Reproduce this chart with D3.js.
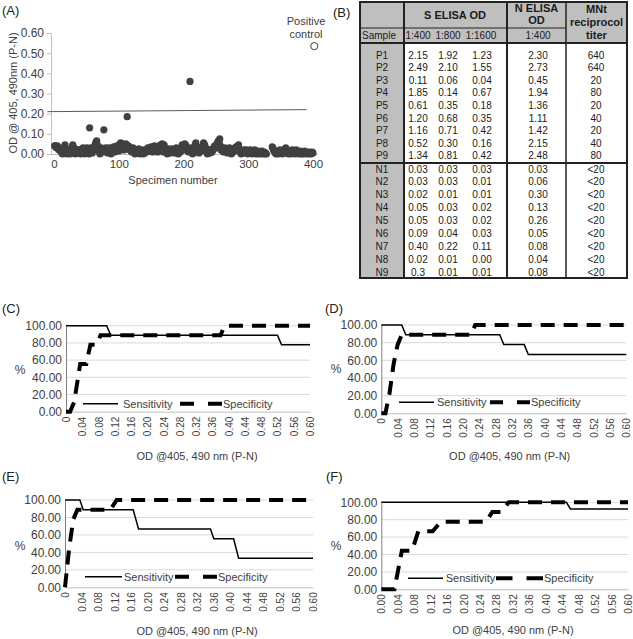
<!DOCTYPE html>
<html><head><meta charset="utf-8">
<script src="https://cdn.jsdelivr.net/npm/d3@7"></script>
<style>body{margin:0;background:#fff}svg{font-family:"Liberation Sans",Arial,sans-serif}</style>
</head><body>
<script>
// ---------- DATA ----------
// Panel A: OD (P-N) by specimen number 1..400 (null = no specimen)
const specimenOD = [
.04,.04,.035,.03,.04,.03,.025,.02,.03,.015,.02,.01,0,.015,.02,.03,.045,.025,.01,0,
.02,.005,.01,.015,0,.01,.02,.035,.045,.02,.03,.01,0,.005,.015,.02,.01,.005,.02,.01,
0,.015,.025,.02,.03,.01,0,.02,.025,.015,.03,.02,.01,0,.13,.02,.03,.015,.005,.025,
.03,.02,.04,.05,.06,.065,.045,.03,.02,.01,0,.02,.03,.025,.015,.02,.12,.01,.025,.03,
.02,.01,.005,.02,.03,.025,.015,0,.01,.02,.03,.035,.02,.01,.025,.03,.04,.035,.02,.015,
.04,.05,.055,.03,.05,.045,.035,.02,.03,.045,.05,.04,.185,.03,.04,.025,.02,.03,.015,.01,
.02,.03,.025,.01,0,.02,.015,.01,.005,.02,.025,.01,0,.005,.015,.01,.02,0,.01,.005,
.015,.02,.01,.025,.03,.02,.015,.03,.025,.035,.02,.01,.03,.02,.04,.03,.025,.035,.02,.01,
.03,.04,.035,.02,.045,.03,.05,.02,.01,.045,.03,.02,.015,.01,0,.02,.025,.01,.005,.015,
.02,.01,.025,.02,.015,.005,.01,.02,.03,.015,.01,0,.02,.025,.01,.03,.02,.045,.04,.03,
.02,.05,.045,.03,.025,.02,.015,.01,.02,.36,.03,.02,.01,0,.015,.025,.03,.045,.055,.04,
.03,.02,.01,.005,.02,.025,.03,.015,.02,.04,.055,.05,.04,.03,.02,.01,0,.015,.02,.01,
.005,.02,.015,.01,.025,.02,.03,.04,.035,.03,.04,.05,.06,.065,.06,.075,.04,.02,.03,.02,
.015,.01,.02,.03,.025,.02,.01,.005,.015,.02,.03,.02,.01,0,.015,.02,.01,.025,.02,.03,
.035,.03,.02,.02,.045,.015,.02,.01,0,.005,.015,.01,.02,.015,.005,.01,.02,.015,0,.01,
.005,.01,.02,.015,.01,0,.005,.01,.015,.02,.01,.005,0,.01,.015,.005,.01,0,.005,.01,
.015,.01,0,.005,.01,0,.005,0,null,null,null,null,null,null,null,null,.035,.03,.02,.015,
.01,.005,0,.01,.015,.005,0,.01,.02,.015,.01,.005,0,.005,.01,.02,.025,.03,.02,.01,
.005,0,.01,.015,.005,0,.01,.02,.015,.01,.005,0,.01,.02,.015,.01,.005,0,.01,.015,
.005,0,.01,.005,0,.01,.015,.01,.005,0,.005,.01,.005,0,.01,.005,0,.005,.01,.005
];
const controlSpecimen = [402];
const controlOD = [0.535];
const cutoffSpecimen = [-10, 390];
const cutoffOD = [0.21, 0.22];
const aTicksX = [0, 100, 200, 300, 400];
const aTicksY = [0, 0.1, 0.2, 0.3, 0.4, 0.5, 0.6];

// Panel B table
const sampleIds = ['P1','P2','P3','P4','P5','P6','P7','P8','P9','N1','N2','N3','N4','N5','N6','N7','N8','N9'];
const sOD400  = ['2.15','2.49','0.11','1.85','0.61','1.20','1.16','0.52','1.34','0.03','0.03','0.02','0.05','0.05','0.09','0.40','0.02','0.3'];
const sOD800  = ['1.92','2.10','0.06','0.14','0.35','0.68','0.71','0.30','0.81','0.03','0.03','0.01','0.03','0.03','0.04','0.22','0.01','0.01'];
const sOD1600 = ['1.23','1.55','0.04','0.67','0.18','0.35','0.42','0.16','0.42','0.03','0.01','0.01','0.02','0.02','0.03','0.11','0.00','0.01'];
const nOD400  = ['2.30','2.73','0.45','1.94','1.36','1.11','1.42','2.15','2.48','0.03','0.06','0.30','0.13','0.26','0.05','0.08','0.04','0.08'];
const mntTiter = ['640','640','20','80','20','40','20','40','80','<20','<20','<20','<20','<20','<20','<20','<20','<20'];

// Panels C-F: cutoff (OD) vs percent
const rocTicksX = [0,0.04,0.08,0.12,0.16,0.20,0.24,0.28,0.32,0.36,0.40,0.44,0.48,0.52,0.56,0.60];
const rocTicksY = [0,20,40,60,80,100];

const cSensCut = [0,0.10,0.11,0.52,0.53,0.60];
const cSensPct = [100,100,88.89,88.89,77.78,77.78];
const cSpecCut = [0,0.01,0.02,0.035,0.05,0.06,0.075,0.085,0.38,0.39,0.60];
const cSpecPct = [0,0,11.11,55.56,55.56,77.78,77.78,88.89,88.89,100,100];

const dSensCut = [0,0.05,0.06,0.29,0.30,0.35,0.36,0.60];
const dSensPct = [100,100,88.89,88.89,77.78,77.78,66.67,66.67];
const dSpecCut = [0,0.01,0.02,0.03,0.04,0.05,0.22,0.23,0.60];
const dSpecPct = [0,0,22.22,55.56,77.78,88.89,88.89,100,100];

const eSensCut = [0,0.036,0.044,0.165,0.178,0.352,0.36,0.408,0.42,0.60];
const eSensPct = [100,100,88.89,88.89,66.67,66.67,55.56,55.56,33.33,33.33];
const eSpecCut = [0,0.01,0.02,0.03,0.11,0.125,0.60];
const eSpecPct = [0,44.44,77.78,88.89,88.89,100,100];

const fSensCut = [0,0.45,0.46,0.60];
const fSensPct = [100,100,92.31,92.31];
const fSpecCut = [0,0.032,0.05,0.075,0.09,0.125,0.145,0.255,0.27,0.29,0.31,0.60];
const fSpecPct = [0,0,44.44,44.44,66.67,66.67,77.78,77.78,88.89,88.89,100,100];

const legendNames = ['Sensitivity','Specificity'];

// ---------- DRAW ----------
const svg = d3.select('body').append('svg').attr('width',633).attr('height',639);
svg.append('rect').attr('width',633).attr('height',639).attr('fill','#fff');
const TXT = '#404040';
const FF = '"Liberation Sans",Arial,sans-serif';

function label(t, x, y){
  svg.append('text').attr('x',x).attr('y',y).attr('dy','0.35em').attr('font-size',13).attr('fill','#222').text(t);
}

// ===== Panel A =====
(function(){
  const g = svg.append('g');
  const x = d3.scaleLinear().domain([0,400]).range([54,313]);
  const y = d3.scaleLinear().domain([0,0.6]).range([154,33]);
  const ya = g.append('g').attr('transform','translate(51,0)')
    .call(d3.axisLeft(y).tickValues(aTicksY).tickFormat(d3.format('.2f')).tickSize(4).tickSizeOuter(0).tickPadding(3));
  ya.select('.domain').attr('stroke','#bfbfbf');
  ya.selectAll('line').attr('stroke','#bfbfbf');
  ya.selectAll('text').attr('font-size',12).attr('fill',TXT).attr('font-family',FF);
  const xa = g.append('g').attr('transform','translate(0,154)')
    .call(d3.axisBottom(x).tickValues(aTicksX).tickSize(0).tickPadding(6));
  xa.select('.domain').attr('stroke','#bfbfbf').attr('d','M51,0.5H318');
  xa.selectAll('text').attr('font-size',11.5).attr('fill',TXT).attr('font-family',FF);

  const pts = specimenOD.map((v,i)=>({n:i+1,v})).filter(d=>d.v!==null);
  g.append('g').selectAll('circle').data(pts).join('circle')
    .attr('cx',d=>x(d.n)).attr('cy',d=>y(d.v)).attr('r',3.6).attr('fill','#404040');
  g.append('path').datum(d3.zip(cutoffSpecimen,cutoffOD))
    .attr('d',d3.line().x(d=>x(d[0])).y(d=>y(d[1]))).attr('stroke','#595959').attr('stroke-width',1).attr('fill','none');
  g.selectAll('.pc').data(d3.zip(controlSpecimen,controlOD)).join('circle')
    .attr('cx',d=>x(d[0])).attr('cy',d=>y(d[1])).attr('r',3.6).attr('fill','#fff').attr('stroke','#404040').attr('stroke-width',1);
  g.append('text').attr('x',306).attr('y',21.5).attr('dy','0.35em').attr('text-anchor','middle').attr('font-size',11).attr('fill',TXT).text('Positive');
  g.append('text').attr('x',306).attr('y',34.5).attr('dy','0.35em').attr('text-anchor','middle').attr('font-size',11).attr('fill',TXT).text('control');
  g.append('text').attr('transform','translate(13,93) rotate(-90)').attr('dy','0.35em').attr('text-anchor','middle').attr('font-size',11).attr('fill',TXT).text('OD @ 405, 490nm (P-N)');
  g.append('text').attr('x',173).attr('y',180).attr('dy','0.35em').attr('text-anchor','middle').attr('font-size',11).attr('fill',TXT).text('Specimen number');
  label('(A)',2,10);
})();

// ===== Panel B table =====
(function(){
  const g = svg.append('g');
  const L=360, R=627, T=2, B=278;
  const gray = '#bfbfbf';
  g.append('rect').attr('x',L).attr('y',T).attr('width',R-L).attr('height',43-T).attr('fill',gray);
  g.append('rect').attr('x',L).attr('y',43).attr('width',404-L).attr('height',B-43).attr('fill',gray);
  const col = d3.scaleOrdinal().domain(['id','s400','s800','s1600','n400','mnt']).range([382,418,448,482,538,596]);
  const row = d3.scaleLinear().domain([0,8,9,17]).range([55,155.8,169,272]);
  const cols = [['id',sampleIds],['s400',sOD400],['s800',sOD800],['s1600',sOD1600],['n400',nOD400],['mnt',mntTiter]];
  cols.forEach(([k,arr])=>{
    g.append('g').selectAll('text').data(arr).join('text')
      .attr('x',col(k)).attr('y',(d,i)=>row(i)).attr('dy','0.35em').attr('text-anchor','middle')
      .attr('font-size',10).attr('fill','#1a1a1a').text(d=>d);
  });
  const hdr = (t,x,y,bold)=>g.append('text').attr('x',x).attr('y',y).attr('dy','0.35em').attr('text-anchor','middle')
      .attr('font-size',bold?11:10).attr('font-weight',bold?'bold':'normal').attr('fill','#1a1a1a').text(t);
  hdr('S ELISA OD',455,15,true);
  hdr('N ELISA',536.5,8.5,true); hdr('OD',536.5,20.5,true);
  hdr('MNt',596.5,9.5,true); hdr('reciprocol',596.5,22.5,true); hdr('titer',596.5,35.5,true);
  hdr('Sample',379,35,false);
  hdr('1:400',418,35,false); hdr('1:800',448,35,false); hdr('1:1600',481,35,false); hdr('1:400',538,35,false);
  const ln=(x1,y1,x2,y2,w)=>g.append('line').attr('x1',x1).attr('y1',y1).attr('x2',x2).attr('y2',y2).attr('stroke','#222').attr('stroke-width',w);
  ln(L,28,566,28,1);
  ln(L,43,R,43,2);
  ln(L,163,R,163,2);
  ln(404,T,404,B,2);
  ln(507,T,507,B,2);
  ln(566,T,566,B,1.5);
  g.append('rect').attr('x',L).attr('y',T).attr('width',R-L).attr('height',B-T).attr('fill','none').attr('stroke','#222').attr('stroke-width',2);
  label('(B)',333,12);
})();

// ===== Panels C-F =====
const panels = [
  {lab:'(C)',lx:2,ly:308,left:66,right:310,top:325.7,bottom:411.7,pctX:20,pctY:370,tx:197,ty:455.7,legY:403.7,leg:[83,118,123,180,222,223],zero:'0',
   sens:[cSensCut,cSensPct],spec:[cSpecCut,cSpecPct]},
  {lab:'(D)',lx:325,ly:308,left:381.3,right:626.3,top:325,bottom:413.3,pctX:336,pctY:369,tx:509.7,ty:455.7,legY:402.3,leg:[399,434,437,490,530,531],zero:'0',
   sens:[dSensCut,dSensPct],spec:[dSpecCut,dSpecPct]},
  {lab:'(E)',lx:2,ly:476,left:65,right:313,top:500,bottom:587.3,pctX:20,pctY:546,tx:197,ty:631.5,legY:576.7,leg:[85,122,124,175,217,218],zero:'0',
   sens:[eSensCut,eSensPct],spec:[eSpecCut,eSpecPct]},
  {lab:'(F)',lx:326,ly:476,left:381.3,right:628,top:502.3,bottom:589.3,pctX:336,pctY:546,tx:513,ty:630,legY:578.3,leg:[408,443,445.7,496,543,544],zero:'0.00',
   sens:[fSensCut,fSensPct],spec:[fSpecCut,fSpecPct]}
];
const DASH = '14,9';
panels.forEach(p=>{
  const g = svg.append('g');
  const x = d3.scaleLinear().domain([0,0.6]).range([p.left,p.right]);
  const y = d3.scaleLinear().domain([0,100]).range([p.bottom,p.top]);
  g.append('g').selectAll('line').data(rocTicksY.slice(1)).join('line')
    .attr('x1',p.left).attr('x2',p.right).attr('y1',d=>y(d)).attr('y2',d=>y(d)).attr('stroke','#d9d9d9').attr('stroke-width',1);
  const ya = g.append('g').attr('transform',`translate(${p.left},0)`)
    .call(d3.axisLeft(y).tickValues(rocTicksY).tickFormat(d3.format('.2f')).tickSize(0).tickPadding(4));
  ya.select('.domain').attr('stroke','#808080');
  ya.selectAll('text').attr('font-size',12).attr('fill',TXT).attr('font-family',FF);
  const xa = g.append('g').attr('transform',`translate(0,${p.bottom})`)
    .call(d3.axisBottom(x).tickValues(rocTicksX).tickFormat(d=>d===0?p.zero:d3.format('.2f')(d)).tickSize(0).tickSizeOuter(0));
  xa.select('.domain').attr('stroke','#bfbfbf');
  xa.selectAll('text').attr('font-size',10).attr('fill',TXT).attr('font-family',FF)
    .attr('x',-5).attr('y',0).attr('dy','0.35em').attr('transform','rotate(-90)').style('text-anchor','end');
  const line = d3.line().x(d=>x(d[0])).y(d=>y(d[1]));
  g.append('path').datum(d3.zip(p.sens[0],p.sens[1])).attr('d',line)
    .attr('fill','none').attr('stroke','#000').attr('stroke-width',1.5);
  g.append('path').datum(d3.zip(p.spec[0],p.spec[1])).attr('d',line)
    .attr('fill','none').attr('stroke','#000').attr('stroke-width',4).attr('stroke-dasharray',DASH);
  const lg = p.leg;
  g.append('line').attr('x1',lg[0]).attr('x2',lg[1]).attr('y1',p.legY).attr('y2',p.legY).attr('stroke','#000').attr('stroke-width',1.5);
  g.append('text').attr('x',lg[2]).attr('y',p.legY).attr('dy','0.35em').attr('font-size',11).attr('fill',TXT).text(legendNames[0]);
  g.append('line').attr('x1',lg[3]).attr('x2',lg[4]).attr('y1',p.legY).attr('y2',p.legY).attr('stroke','#000').attr('stroke-width',4)
    .attr('stroke-dasharray',`${(lg[4]-lg[3]-14)/2},14`);
  g.append('text').attr('x',lg[5]).attr('y',p.legY).attr('dy','0.35em').attr('font-size',11).attr('fill',TXT).text(legendNames[1]);
  g.append('text').attr('x',p.pctX).attr('y',p.pctY).attr('dy','0.35em').attr('text-anchor','middle').attr('font-size',12).attr('fill',TXT).text('%');
  g.append('text').attr('x',p.tx).attr('y',p.ty).attr('dy','0.35em').attr('text-anchor','middle').attr('font-size',11).attr('fill',TXT).text('OD @405, 490 nm (P-N)');
  label(p.lab,p.lx,p.ly);
});
</script>
</body></html>
